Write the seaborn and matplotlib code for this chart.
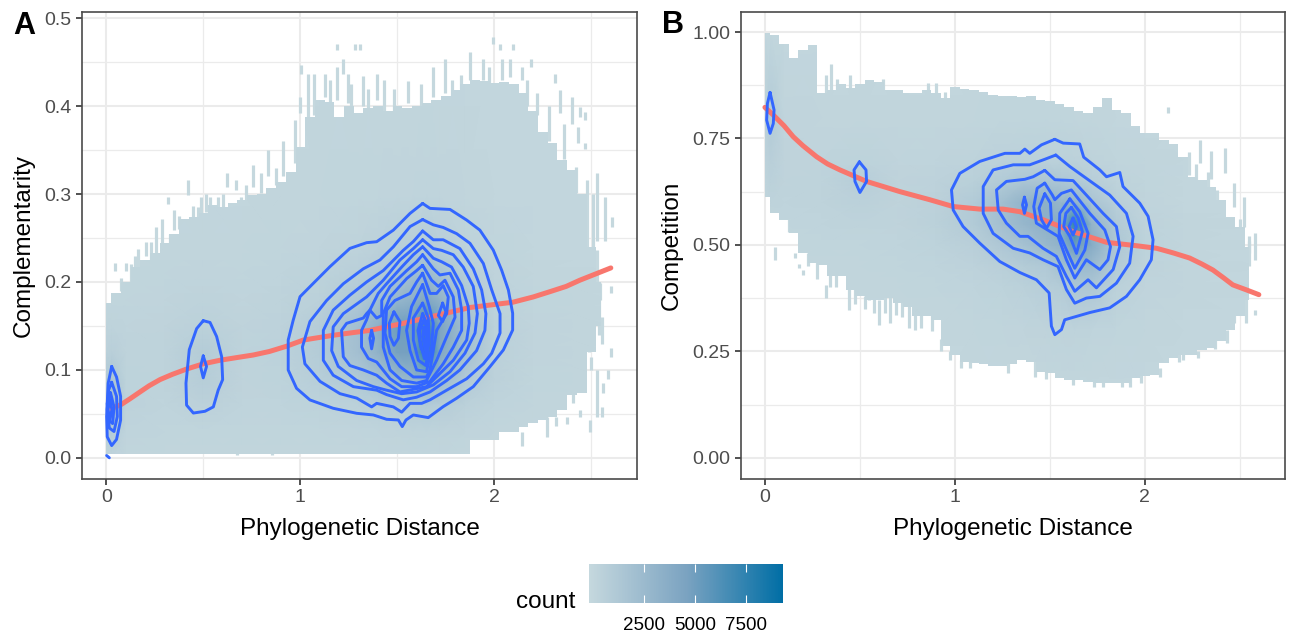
import numpy as np
import matplotlib
matplotlib.use("Agg")
import matplotlib.pyplot as plt
from matplotlib.colors import LinearSegmentedColormap, Normalize
from matplotlib.cm import ScalarMappable
import seaborn as sns

# ---- outline of the binned cloud, one value every 0.05 of distance
bin_x = [round(i * 0.05, 2) for i in range(52)]

a_top = [.176,.187,.2,.217,.225,.233,.244,.255,.272,.274,.278,.288,.285,.29,.293,.299,.3,.307,.314,.325,
         .353,.388,.407,.405,.388,.4,.392,.398,.4,.395,.4,.398,.4,.403,.407,.412,.418,.425,.43,.428,
         .426,.427,.425,.415,.395,.37,.358,.339,.327,.3,.24,.2]
a_bottom = [.004]*38 + [.02,.02,.02,.03,.03,.035,.04,.043,.047,.055,.072,.074,.12,.15]

b_top = [.997,.993,.973,.938,.958,.969,.856,.864,.879,.868,.879,.887,.883,.864,.864,.856,.856,.864,.856,.845,
         .87,.866,.864,.858,.852,.85,.85,.848,.85,.84,.838,.83,.824,.815,.81,.824,.845,.817,.81,.78,
         .763,.763,.746,.738,.707,.66,.653,.636,.606,.566,.542,.495]
b_bottom = [.613,.574,.559,.527,.48,.457,.453,.426,.426,.394,.379,.371,.371,.375,.363,.355,.332,.332,.324,.262,
            .242,.226,.223,.219,.215,.215,.219,.23,.226,.202,.199,.187,.183,.183,.179,.176,.176,.176,.176,.187,
            .191,.195,.222,.234,.242,.242,.254,.257,.273,.301,.332,.371]

# ---- loose bins around the outline: distance, low, high
a_speck_x = [.043,.103,.146,.163,.206,.258,.287,.318,.33,.349,.421,.447,.49,.533,.576,.624,.67,.696,.756,.799,
             .833,.911,.971,1.005,.997,1.04,1.07,1.125,1.186,1.22,1.28,1.307,1.186,1.246,1.324,1.393,1.556,1.685,
             1.745,1.874,1.942,1.994,2.028,2.097,2.037,2.08,2.188,2.14,2.312,2.337,2.398,2.44,2.466,2.432,2.466,
             2.389,2.423,2.475,2.527,2.57,2.604,2.44,2.544,2.599,2.527,2.553,2.599,2.587,2.527,2.492,2.552,2.5,
             2.561,2.406,2.441,2.372,2.32,2.27,2.14,.674,.856,
             .075,.125,.23,.375,.47,.515,.6,.72,.875,1.15,1.26,1.35,1.43,1.48,1.62,1.78,1.83,1.97,2.17,2.22,2.28,2.36,
             2.51,2.49,2.54]
a_speck_lo = [.213,.213,.217,.217,.229,.233,.236,.289,.236,.259,.299,.274,.278,.267,.278,.308,.305,.286,.308,.301,
              .32,.32,.335,.437,.392,.38,.39,.41,.464,.437,.464,.464,.407,.403,.4,.407,.403,.41,
              .415,.43,.43,.471,.464,.464,.43,.433,.445,.43,.426,.392,.38,.388,.384,.358,.351,
              .305,.301,.217,.247,.247,.263,.217,.18,.187,.2,.13,.115,.09,.047,.03,.047,.1,
              .074,.062,.047,.038,.036,.024,.013,.003,.003,
              .19,.2,.225,.26,.27,.28,.285,.29,.31,.4,.39,.39,.395,.39,.4,.41,.42,.425,.4,.39,.36,.34,
              .24,.12,.14]
a_speck_hi = [.222,.222,.229,.238,.246,.263,.272,.297,.255,.282,.316,.286,.297,.297,.297,.324,.316,.297,.333,.324,
              .35,.36,.384,.447,.41,.437,.437,.437,.471,.454,.471,.471,.445,.437,.434,.437,.428,.445,
              .454,.462,.454,.479,.471,.471,.454,.454,.454,.445,.437,.418,.41,.399,.393,.376,.358,
              .316,.331,.316,.324,.297,.274,.247,.199,.195,.236,.16,.125,.1,.1,.043,.058,.115,
              .085,.081,.055,.047,.047,.047,.03,.013,.013,
              .205,.22,.245,.275,.285,.3,.3,.31,.33,.43,.425,.42,.43,.42,.425,.43,.435,.445,.43,.415,.4,.38,
              .3,.24,.2]

b_speck_x = [.055,.16,.18,.2,.32,.345,.44,.55,.6,.66,.72,.76,.82,.88,.35,.32,.38,.45,.62,.86,.9,.95,
             2.12,2.23,2.29,2.35,2.42,2.47,2.52,2.58,2.55,2.42,2.47,2.53,2.58,2.43,
             .125,.225,.275,.375,.475,.525,.575,.63,.69,.79,.925,.975,1.03,1.08,1.28,1.48,1.73,1.78,1.88,1.98,2.08,2.18,
             2.27,2.33,2.38,2.5,2.55,2.37,2.28,2.2,1.42,1.62,1.92]
b_speck_lo = [.465,.47,.445,.43,.375,.4,.346,.37,.312,.316,.33,.304,.304,.297,.864,.856,.85,.868,.86,.82,.81,.82,
              .81,.664,.692,.655,.669,.589,.542,.465,.48,.331,.317,.317,.335,.27,
              .53,.45,.42,.4,.36,.35,.34,.34,.335,.3,.25,.23,.21,.21,.2,.185,.165,.165,.165,.175,.19,.225,
              .65,.62,.6,.53,.45,.255,.235,.23,.19,.17,.165]
b_speck_hi = [.495,.48,.455,.44,.406,.43,.396,.43,.371,.396,.37,.379,.35,.37,.926,.9,.89,.9,.89,.88,.88,.86,
              .825,.718,.746,.72,.728,.646,.613,.528,.52,.378,.387,.387,.347,.3,
              .56,.48,.46,.43,.4,.38,.38,.38,.37,.34,.28,.25,.23,.23,.225,.205,.185,.185,.185,.195,.21,.245,
              .69,.67,.63,.56,.51,.28,.25,.25,.24,.19,.19]

# ---- counts per bin at a coarse set of nodes
a_count_x = [0,.03,.1,.3,.5,.7,.9,1.1,1.3,1.4,1.5,1.58,1.65,1.72,1.85,2.0,2.2,2.6]
a_count_y = [0,.03,.06,.09,.12,.15,.18,.21,.24,.3,.5]
a_count = [
    [100,150,80,60,60,60,60,60,60,60,60,60,60,60,50,40,30,30],
    [700,900,200,120,130,100,100,120,150,180,220,250,260,220,150,80,50,30],
    [1800,2200,350,200,400,180,200,300,450,600,800,900,1000,800,450,200,80,30],
    [1100,1400,300,250,800,220,300,700,1200,1800,2600,2900,3400,2500,1100,400,120,40],
    [500,600,250,250,900,250,380,950,2000,3200,4700,4800,8000,4200,1900,500,150,50],
    [250,250,180,220,500,220,320,850,2000,3300,5000,4800,7000,4400,2000,500,140,50],
    [100,100,120,160,250,170,260,500,1200,1900,2800,3300,4200,3100,1400,350,100,40],
    [50,50,80,120,150,130,180,300,600,900,1500,2000,2400,1700,750,220,70,30],
    [20,30,50,80,90,90,110,160,280,400,550,700,900,600,300,120,50,20],
    [10,10,20,40,50,50,60,70,100,120,150,170,200,160,90,50,30,10],
    [0,0,0,0,0,0,0,0,0,0,0,0,0,0,0,0,0,0],
]

b_count_x = [0,.03,.1,.3,.5,.7,.9,1.1,1.25,1.36,1.48,1.56,1.63,1.72,1.85,2.0,2.2,2.6]
b_count_y = [.15,.3,.4,.45,.5,.55,.6,.65,.7,.8,1.0]
b_count = [
    [0,0,0,0,0,0,0,0,0,0,0,0,0,0,0,0,0,0],
    [0,0,0,30,30,50,50,80,100,150,220,250,250,180,100,60,40,20],
    [0,0,30,60,60,80,120,200,300,450,700,900,1300,1300,500,150,60,20],
    [0,0,50,80,80,120,180,330,600,900,1200,1900,2500,2500,1000,250,70,20],
    [40,50,80,120,120,180,300,600,1300,1800,2600,3200,5200,3800,1300,300,70,20],
    [60,100,120,180,250,220,450,1000,2000,2800,3400,3800,7500,3000,1100,250,60,20],
    [120,250,180,250,450,240,420,1000,2100,3000,3400,2800,3000,1600,600,150,50,10],
    [200,450,220,260,700,240,340,550,1000,1400,1500,1300,1200,700,250,100,40,10],
    [350,600,220,200,300,170,200,280,400,500,500,450,400,250,120,60,20,0],
    [500,1000,150,90,80,70,80,90,110,130,120,100,90,70,40,20,10,0],
    [50,50,20,10,0,0,0,0,0,0,0,0,0,0,0,0,0,0],
]

# ---- smooth lines
a_smooth_x = [.027,.078,.12,.173,.22,.276,.34,.413,.5,.585,.67,.757,.84,.929,1.015,1.1,1.187,1.358,1.53,1.702,1.874,2.095,2.2,2.286,2.37,2.44,2.52,2.6]
a_smooth_y = [.056,.061,.067,.075,.082,.089,.095,.101,.107,.111,.114,.117,.121,.127,.134,.137,.14,.145,.153,.162,.171,.177,.183,.189,.195,.202,.209,.216]
b_smooth_x = [0,.044,.1,.149,.2,.272,.33,.395,.535,.711,.868,.991,1.131,1.254,1.342,1.464,1.622,1.798,1.955,2.061,2.15,2.236,2.3,2.358,2.41,2.463,2.53,2.6]
b_smooth_y = [.823,.805,.78,.754,.733,.707,.69,.676,.649,.625,.606,.59,.584,.584,.578,.559,.531,.506,.498,.492,.481,.469,.455,.441,.424,.406,.395,.383]

# ---- density contours, panel A
a_c1_x = [1.63,1.668,1.771,1.857,1.925,1.994,2.037,2.072,2.094,2.094,2.046,1.977,1.891,1.805,1.736,1.659,1.582,1.544,1.525,1.505,1.444,1.376,1.29,1.169,1.049,.98,.937,.937,.963,.998,1.066,1.152,1.255,1.341,1.393,1.479,1.565,1.63]
a_c1_y = [.2893,.2837,.2825,.2704,.259,.2363,.2136,.1909,.1644,.1454,.1227,.1037,.081,.0678,.0583,.0458,.0488,.0431,.0356,.0431,.0439,.0488,.0507,.0564,.0659,.0791,.0999,.134,.1568,.1833,.1984,.2174,.2382,.2447,.2458,.259,.278,.2893]
a_c2_x = [1.63,1.685,1.736,1.805,1.874,1.943,1.986,2.029,2.029,1.986,1.943,1.857,1.754,1.668,1.625,1.565,1.522,1.479,1.393,1.367,1.29,1.204,1.101,1.023,1.01,1.049,1.135,1.221,1.324,1.41,1.479,1.565,1.63]
a_c2_y = [.271,.265,.262,.255,.244,.221,.191,.164,.142,.119,.107,.09,.077,.066,.062,.062,.052,.058,.062,.058,.068,.073,.087,.107,.126,.155,.179,.198,.215,.225,.24,.263,.271]
a_c3_x = [1.63,1.685,1.736,1.822,1.891,1.934,1.956,1.951,1.908,1.822,1.754,1.668,1.599,1.53,1.444,1.393,1.273,1.169,1.118,1.118,1.169,1.255,1.341,1.427,1.53,1.582,1.63]
a_c3_y = [.258,.248,.248,.238,.215,.191,.164,.145,.122,.1,.088,.075,.069,.066,.072,.077,.081,.094,.111,.145,.168,.185,.2,.213,.236,.246,.258]
a_c4_x = [1.63,1.685,1.728,1.788,1.839,1.891,1.912,1.9,1.848,1.771,1.685,1.599,1.522,1.444,1.376,1.29,1.195,1.161,1.169,1.221,1.341,1.427,1.513,1.582,1.63]
a_c4_y = [.248,.238,.236,.231,.217,.195,.164,.142,.119,.098,.083,.075,.073,.077,.081,.088,.104,.122,.149,.164,.183,.202,.225,.238,.248]
a_c5_x = [1.63,1.685,1.728,1.779,1.831,1.865,1.87,1.857,1.788,1.719,1.65,1.582,1.513,1.444,1.393,1.324,1.255,1.221,1.212,1.238,1.324,1.341,1.358,1.401,1.444,1.522,1.582,1.63]
a_c5_y = [.24,.227,.223,.217,.196,.172,.153,.134,.111,.096,.081,.078,.075,.085,.094,.1,.105,.115,.145,.153,.159,.164,.168,.187,.198,.217,.231,.24]
a_c6_x = [1.63,1.685,1.719,1.771,1.814,1.831,1.831,1.788,1.736,1.668,1.599,1.522,1.462,1.393,1.35,1.315,1.315,1.341,1.358,1.393,1.419,1.419,1.462,1.548,1.599,1.63]
a_c6_y = [.231,.215,.208,.21,.191,.168,.145,.126,.107,.087,.081,.081,.09,.109,.113,.126,.145,.157,.168,.159,.162,.179,.195,.213,.223,.231]
a_c7_x = [1.63,1.676,1.711,1.745,1.788,1.797,1.754,1.702,1.65,1.599,1.522,1.462,1.427,1.427,1.462,1.548,1.599,1.63]
a_c7_y = [.219,.202,.195,.202,.183,.16,.138,.111,.088,.085,.088,.1,.126,.164,.183,.204,.213,.219]
a_c8_x = [1.63,1.668,1.702,1.736,1.762,1.754,1.702,1.668,1.65,1.582,1.513,1.462,1.436,1.444,1.487,1.565,1.599,1.63]
a_c8_y = [.21,.187,.187,.196,.183,.164,.145,.1,.092,.092,.104,.119,.142,.168,.179,.187,.2,.21]
a_c9_x = [1.63,1.664,1.685,1.676,1.65,1.599,1.565,1.547,1.573,1.63]
a_c9_y = [.197,.172,.153,.126,.098,.1,.122,.145,.172,.197]
a_c10_x = [1.63,1.659,1.664,1.647,1.608,1.582,1.582,1.63]
a_c10_y = [.176,.159,.134,.105,.111,.134,.159,.176]
a_c11_x = [1.63,1.651,1.657,1.644,1.62,1.606,1.63]
a_c11_y = [.164,.153,.134,.113,.126,.145,.164]
a_c12_x = [1.637,1.659,1.65,1.639,1.616,1.616,1.637]
a_c12_y = [.157,.142,.122,.113,.134,.145,.157]
a_c13_x = [1.637,1.648,1.643,1.63,1.637]
a_c13_y = [.148,.138,.122,.138,.148]
a_e1_x = [1.482,1.513,1.505,1.482,1.462,1.458,1.482]
a_e1_y = [.166,.155,.136,.128,.138,.153,.166]
a_e2_x = [1.367,1.377,1.367,1.358,1.367]
a_e2_y = [.145,.136,.124,.136,.145]
a_e3_x = [1.733,1.75,1.733,1.711,1.733]
a_e3_y = [.176,.166,.155,.162,.176]
a_mid1_x = [.499,.534,.568,.594,.599,.576,.551,.508,.448,.413,.41,.427,.465,.499]
a_mid1_y = [.156,.154,.138,.115,.089,.077,.058,.053,.051,.06,.085,.123,.147,.156]
a_mid2_x = [.499,.516,.499,.485,.499]
a_mid2_y = [.116,.104,.091,.104,.116]
a_left1_x = [.027,.052,.073,.073,.052,.027,.004,.001,.009,.027]
a_left1_y = [.104,.092,.07,.043,.021,.014,.024,.047,.085,.104]
a_left2_x = [.027,.052,.056,.039,.015,.004,.011,.027]
a_left2_y = [.086,.07,.047,.03,.034,.055,.077,.086]
a_left3_x = [.021,.039,.032,.011,.004,.021]
a_left3_y = [.074,.058,.039,.043,.062,.074]
a_left4_x = [.018,.028,.018,.008,.018]
a_left4_y = [.066,.055,.043,.055,.066]
a_foot_x = [.001,.015]
a_foot_y = [.0027,.0001]

# ---- density contours, panel B
b_c1_x = [1.526,1.57,1.657,1.678,1.763,1.798,1.868,1.885,1.973,2.017,2.043,2.034,1.973,1.903,1.815,1.71,1.578,1.561,1.526,1.508,1.496,1.429,1.342,1.236,1.131,1.043,.991,.982,1.026,1.131,1.263,1.342,1.368,1.394,1.456,1.526]
b_c1_y = [.748,.739,.737,.706,.676,.66,.67,.637,.598,.567,.512,.465,.418,.379,.352,.341,.324,.301,.289,.309,.387,.418,.435,.461,.504,.543,.582,.629,.668,.696,.715,.715,.725,.715,.735,.748]
b_c2_x = [1.531,1.605,1.727,1.815,1.903,1.938,1.92,1.85,1.763,1.692,1.631,1.587,1.543,1.464,1.394,1.307,1.201,1.149,1.149,1.201,1.307,1.394,1.473,1.531]
b_c2_y = [.711,.684,.645,.617,.574,.52,.457,.41,.379,.375,.363,.395,.449,.465,.481,.492,.527,.574,.637,.676,.688,.688,.701,.711]
b_c3_x = [1.473,1.526,1.622,1.692,1.78,1.85,1.868,1.833,1.745,1.701,1.631,1.587,1.534,1.464,1.385,1.342,1.271,1.228,1.219,1.271,1.368,1.412,1.473]
b_c3_y = [.675,.653,.651,.617,.574,.543,.496,.442,.399,.418,.391,.426,.473,.492,.52,.52,.551,.582,.629,.649,.654,.66,.675]
b_c4_x = [1.473,1.513,1.526,1.561,1.613,1.71,1.789,1.819,1.806,1.763,1.692,1.631,1.587,1.543,1.473,1.429,1.415,1.433,1.473]
b_c4_y = [.645,.617,.606,.621,.629,.574,.535,.496,.465,.442,.465,.422,.465,.52,.539,.551,.59,.633,.645]
b_c5_x = [1.473,1.503,1.508,1.482,1.456,1.443,1.473]
b_c5_y = [.62,.598,.559,.539,.559,.586,.62]
b_c6_x = [1.605,1.657,1.701,1.684,1.631,1.587,1.549,1.552,1.605]
b_c6_y = [.608,.578,.527,.488,.445,.488,.527,.574,.608]
b_c7_x = [1.613,1.649,1.671,1.64,1.605,1.573,1.584,1.613]
b_c7_y = [.588,.563,.531,.48,.52,.543,.574,.588]
b_c8_x = [1.622,1.64,1.622,1.601,1.622]
b_c8_y = [.563,.543,.523,.543,.563]
b_e1_x = [1.366,1.377,1.366,1.356,1.366]
b_e1_y = [.612,.594,.574,.594,.612]
b_left_x = [.027,.048,.044,.027,.009,.013,.027]
b_left_y = [.858,.817,.785,.762,.793,.832,.858]
b_mid_x = [.497,.532,.535,.5,.474,.469,.497]
b_mid_y = [.695,.676,.649,.623,.649,.676,.695]

a_contours = [(a_c1_x,a_c1_y),(a_c2_x,a_c2_y),(a_c3_x,a_c3_y),(a_c4_x,a_c4_y),(a_c5_x,a_c5_y),(a_c6_x,a_c6_y),
              (a_c7_x,a_c7_y),(a_c8_x,a_c8_y),(a_c9_x,a_c9_y),(a_c10_x,a_c10_y),(a_c11_x,a_c11_y),(a_c12_x,a_c12_y),
              (a_c13_x,a_c13_y),(a_e1_x,a_e1_y),(a_e2_x,a_e2_y),(a_e3_x,a_e3_y),(a_mid1_x,a_mid1_y),(a_mid2_x,a_mid2_y),
              (a_left1_x,a_left1_y),(a_left2_x,a_left2_y),(a_left3_x,a_left3_y),(a_left4_x,a_left4_y),(a_foot_x,a_foot_y)]
b_contours = [(b_c1_x,b_c1_y),(b_c2_x,b_c2_y),(b_c3_x,b_c3_y),(b_c4_x,b_c4_y),(b_c5_x,b_c5_y),(b_c6_x,b_c6_y),
              (b_c7_x,b_c7_y),(b_c8_x,b_c8_y),(b_e1_x,b_e1_y),(b_left_x,b_left_y),(b_mid_x,b_mid_y)]

bar_ticks = [2500, 5000, 7500]

LOW = "#c5d8de"
cmap = LinearSegmentedColormap.from_list("count", [LOW, "#7ba3c1", "#006ea5"])
norm = Normalize(-200, 9300)
W, H = 1291, 632

sns.set_theme(style="whitegrid")
plt.rcParams["font.family"] = ["Liberation Sans", "DejaVu Sans"]


def panel(box, top, bottom, spk, grid, curves, smooth, ylim, yticks, yminor, ylabels, ylabel):
    x0, x1, y0, y1 = box
    ax = fig.add_axes([x0 / W, 1 - y1 / H, (x1 - x0) / W, (y1 - y0) / H])
    ax.set_xlim(-0.126, 2.735)
    ax.set_ylim(*ylim)
    ax.set_xticks([0, 1, 2])
    ax.set_xticks([0.5, 1.5, 2.5], minor=True)
    ax.set_yticks(yticks)
    ax.set_yticklabels(ylabels)
    ax.set_yticks(yminor, minor=True)
    ax.set_axisbelow(True)
    ax.grid(True, which="major", color="#ebebeb", lw=1.5)
    ax.grid(True, which="minor", color="#ebebeb", lw=0.9)
    ax.tick_params(which="major", length=4.5, width=1.2, color="#333333", labelcolor="#4d4d4d",
                   labelsize=14, pad=3, bottom=True, left=True)
    ax.tick_params(which="minor", length=0)
    for s in ax.spines.values():
        s.set_color("#4a4a4a")
        s.set_linewidth(1.2)

    # cloud of bins, shaded by count and cut to the outline
    poly = ax.fill_between(bin_x, bottom, top, step="mid", color=LOW, lw=0, zorder=2)
    ax.vlines(spk[0], spk[1], spk[2], color=LOW, lw=2.3, zorder=2)
    mesh = ax.pcolormesh(grid[0], grid[1], np.array(grid[2]), shading="gouraud", cmap=cmap, norm=norm, zorder=3)
    mesh.set_clip_path(poly.get_paths()[0], transform=ax.transData)

    sns.lineplot(x=smooth[0], y=smooth[1], color="#f8766d", lw=3.6, sort=False, estimator=None, ax=ax, zorder=4)
    for cx, cy in curves:
        sns.lineplot(x=cx, y=cy, color="#3366ff", lw=2.1, sort=False, estimator=None, ax=ax, zorder=5)

    ax.set_xlabel("Phylogenetic Distance", fontsize=17.5, color="black", labelpad=8)
    ax.set_ylabel(ylabel, fontsize=17.5, color="black", labelpad=7)
    return ax


fig = plt.figure(figsize=(W / 100, H / 100), dpi=100)

panel((82, 637, 12, 479), a_top, a_bottom, (a_speck_x, a_speck_lo, a_speck_hi),
      (a_count_x, a_count_y, a_count), a_contours, (a_smooth_x, a_smooth_y),
      (-0.024, 0.507), [0, .1, .2, .3, .4, .5], [.05, .15, .25, .35, .45],
      ["0.0", "0.1", "0.2", "0.3", "0.4", "0.5"], "Complementarity")
panel((741, 1284.5, 12, 479), b_top, b_bottom, (b_speck_x, b_speck_lo, b_speck_hi),
      (b_count_x, b_count_y, b_count), b_contours, (b_smooth_x, b_smooth_y),
      (-0.05, 1.047), [0, .25, .5, .75, 1], [.125, .375, .625, .875],
      ["0.00", "0.25", "0.50", "0.75", "1.00"], "Competition")

fig.text(13 / W, 1 - 34 / H, "A", fontsize=22, fontweight="bold", color="black")
fig.text(662 / W, 1 - 33 / H, "B", fontsize=22, fontweight="bold", color="black")

# colour bar
cax = fig.add_axes([589 / W, 1 - 603 / H, 194 / W, 39 / H])
cbar = fig.colorbar(ScalarMappable(norm=norm, cmap=cmap), cax=cax, orientation="horizontal")
cbar.outline.set_visible(False)
cbar.set_ticks(bar_ticks)
cbar.ax.tick_params(length=0, labelsize=13.5, pad=10, labelcolor="black")
cax.vlines(bar_ticks, 0, 0.2, color="white", lw=0.8)
cax.vlines(bar_ticks, 0.8, 1, color="white", lw=0.8)
fig.text(546 / W, 1 - 600 / H, "count", fontsize=17.5, ha="center", va="center_baseline", color="black")

fig.savefig("out.png", dpi=100)
